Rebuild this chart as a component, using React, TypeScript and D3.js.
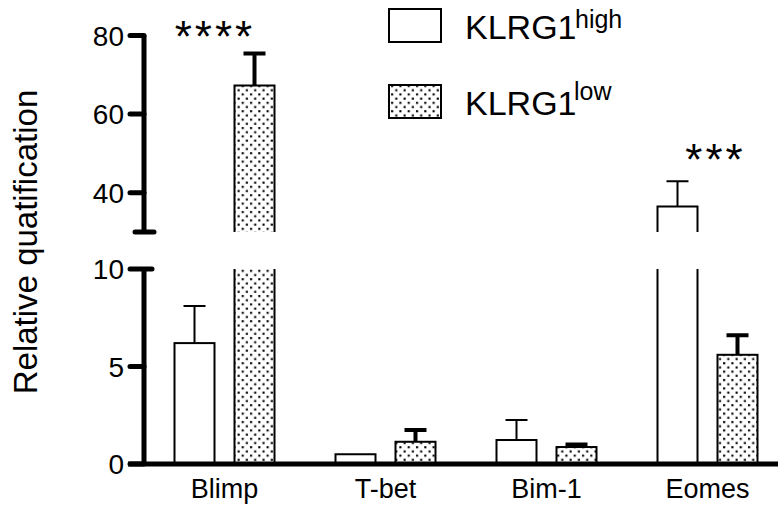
import React from "react";
import * as d3 from "d3";

const categories = ["Blimp", "T-bet", "Bim-1", "Eomes"];
const highMean = [6.2, 0.5, 1.23, 36.5];
const highErr = [1.9, 0, 1.03, 6.4];
const lowMean = [67.3, 1.14, 0.87, 5.6];
const lowErr = [8.1, 0.6, 0.13, 1.0];
const lowerTicks = [0, 5, 10];
const upperTicks = [40, 60, 80];
const stars = [
  { cat: "Blimp", text: "****", dx: -9.5, y: 52 },
  { cat: "Eomes", text: "***", dx: 8, y: 175 },
];

const W = 778;
const H = 510;
const FONT = "'Liberation Sans', Arial, Helvetica, sans-serif";

export default function App() {
  const x = d3.scaleBand<string>().domain(categories).range([144, 788]).paddingInner(0).paddingOuter(0);
  const yLow = d3.scaleLinear().domain([0, 10]).range([464, 269]);
  const yHigh = d3.scaleLinear().domain([30, 80]).range([232, 35.5]);
  const breakLow = 10;
  const breakHigh = 30;
  const barW = 40;
  const offset = 30;
  const axisX = 144;

  const yOf = (v: number) => (v <= breakLow ? yLow(v) : yHigh(v));

  const bars: React.ReactNode[] = [];
  const errs: React.ReactNode[] = [];

  const series = [
    { mean: highMean, err: highErr, dx: -offset, fill: "#fff", errW: 2 },
    { mean: lowMean, err: lowErr, dx: offset, fill: "url(#dots)", errW: 4 },
  ];

  series.forEach((s, si) => {
    categories.forEach((c, i) => {
      const cx = (x(c) as number) + x.bandwidth() / 2 + s.dx;
      const x0 = cx - barW / 2;
      const x1 = cx + barW / 2;
      const v = s.mean[i];
      const key = `${si}-${i}`;
      if (v <= breakLow) {
        bars.push(
          <rect key={key} x={x0} y={yLow(v)} width={barW} height={yLow(0) - yLow(v)}
            fill={s.fill} stroke="#000" strokeWidth={2} />
        );
      } else {
        bars.push(
          <g key={key}>
            <rect x={x0} y={yLow(breakLow)} width={barW} height={yLow(0) - yLow(breakLow)} fill={s.fill} stroke="none" />
            <path d={`M${x0},${yLow(0)}V${yLow(breakLow)}M${x1},${yLow(0)}V${yLow(breakLow)}`} stroke="#000" strokeWidth={2} fill="none" />
            <rect x={x0} y={yHigh(v)} width={barW} height={yHigh(breakHigh) - yHigh(v)} fill={s.fill} stroke="none" />
            <path d={`M${x0},${yHigh(breakHigh)}V${yHigh(v)}H${x1}V${yHigh(breakHigh)}`} stroke="#000" strokeWidth={2} fill="none" />
          </g>
        );
      }
      const e = s.err[i];
      if (e > 0) {
        const yt = yOf(v + e);
        const yb = yOf(v);
        errs.push(
          <path key={"e" + key} d={`M${cx},${yb}V${yt}M${cx - 11},${yt}H${cx + 11}`} stroke="#000" strokeWidth={s.errW} fill="none" />
        );
      }
    });
  });

  return (
    <svg width={W} height={H} style={{ position: "absolute", left: 0, top: 0 }} fontFamily={FONT}>
      <defs>
        <pattern id="dots" patternUnits="userSpaceOnUse" width={8.3} height={8.4}>
          <rect width={8.3} height={8.4} fill="#fff" />
          <rect x={1} y={1} width={2.1} height={2.1} fill="#000" />
          <rect x={5.15} y={5.2} width={2.1} height={2.1} fill="#000" />
        </pattern>
      </defs>
      <rect width={W} height={H} fill="#fff" />

      {bars}
      {errs}

      <line x1={128} x2={790} y1={yLow(0)} y2={yLow(0)} stroke="#000" strokeWidth={5} />

      <line x1={axisX} x2={axisX} y1={yLow(0)} y2={yLow(10)} stroke="#000" strokeWidth={5} />
      {lowerTicks.map((t) => (
        <g key={"lt" + t}>
          <line x1={t === 10 ? 152 : axisX} x2={130} y1={yLow(t)} y2={yLow(t)} stroke="#000" strokeWidth={5} strokeLinecap="round" />
          <text x={124} y={yLow(t)} dy="0.36em" textAnchor="end" fontSize={28}>{t}</text>
        </g>
      ))}
      <line x1={axisX} x2={axisX} y1={yHigh(30)} y2={yHigh(80)} stroke="#000" strokeWidth={5} />
      <line x1={135} x2={154} y1={yHigh(30)} y2={yHigh(30)} stroke="#000" strokeWidth={5} strokeLinecap="round" />
      {upperTicks.map((t) => (
        <g key={"ut" + t}>
          <line x1={axisX} x2={130} y1={yHigh(t)} y2={yHigh(t)} stroke="#000" strokeWidth={5} strokeLinecap="round" />
          <text x={124} y={yHigh(t)} dy="0.36em" textAnchor="end" fontSize={28}>{t}</text>
        </g>
      ))}

      {categories.map((c) => (
        <text key={"c" + c} x={(x(c) as number) + x.bandwidth() / 2} y={498} textAnchor="middle" fontSize={27}>{c}</text>
      ))}

      <text transform={`translate(37,242) rotate(-90)`} textAnchor="middle" fontSize={33}>Relative quatification</text>

      {stars.map((s) => (
        <text key={"s" + s.cat} x={(x(s.cat) as number) + x.bandwidth() / 2 + s.dx} y={s.y}
          textAnchor="middle" fontSize={44} letterSpacing={3}>{s.text}</text>
      ))}

      <rect x={389} y={9} width={52} height={33} fill="#fff" stroke="#000" strokeWidth={2} />
      <text x={465} y={39} fontSize={34}>KLRG1</text>
      <text x={575} y={28} fontSize={25}>high</text>
      <rect x={389} y={85} width={52} height={33} fill="url(#dots)" stroke="#000" strokeWidth={2} />
      <text x={465} y={115} fontSize={34}>KLRG1</text>
      <text x={574} y={100} fontSize={25}>low</text>
    </svg>
  );
}
